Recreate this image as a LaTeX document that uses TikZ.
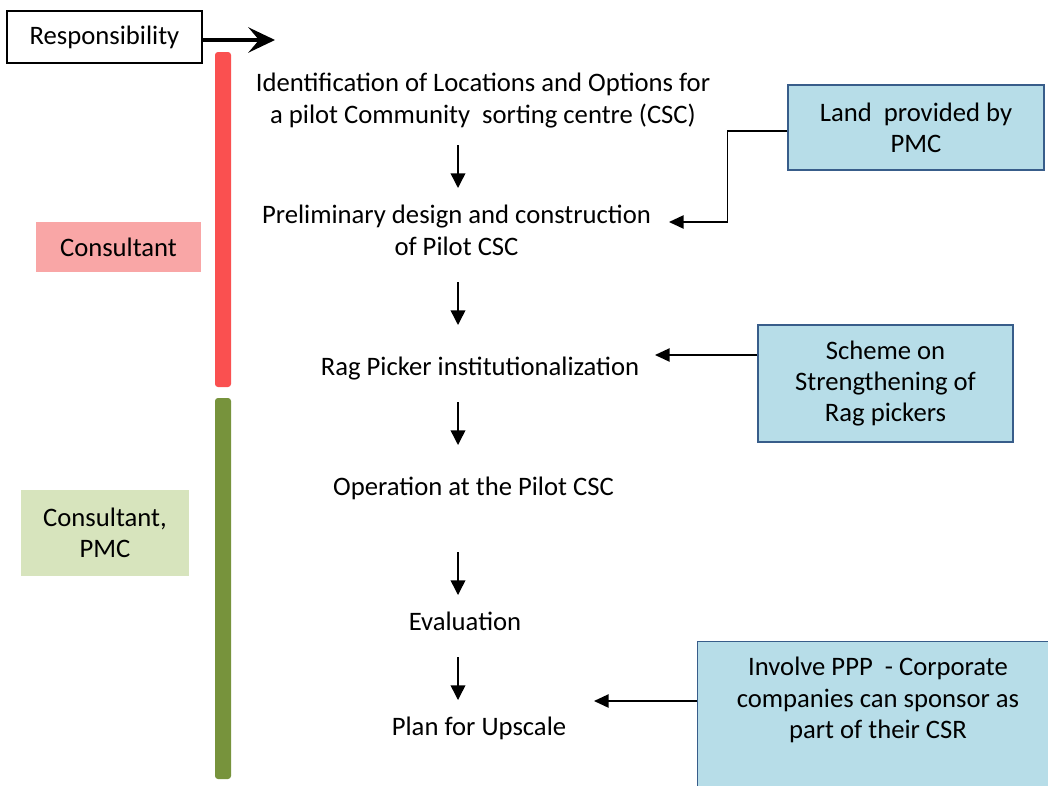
\documentclass[tikz,border=0pt]{standalone}
\usepackage{fontspec}
\setmainfont{Carlito}
\usetikzlibrary{arrows.meta}
\definecolor{barred}{RGB}{250,80,80}
\definecolor{bargreen}{RGB}{119,147,60}
\definecolor{pinkfill}{RGB}{249,166,166}
\definecolor{greenfill}{RGB}{215,228,189}
\definecolor{bluefill}{RGB}{183,221,232}
\definecolor{blueedge}{RGB}{56,93,138}
\begin{document}
\begin{tikzpicture}[x=0.75pt,y=-0.75pt,
  txt/.style={font=\fontsize{20}{23.5}\selectfont, align=center, inner sep=0pt},
  bluebox/.style={fill=bluefill, draw=blueedge, line width=1.1pt},
  flow/.style={-{Triangle[length=11pt,width=11pt]}, line width=1.1pt},
  conn/.style={-{Triangle[length=11pt,width=10pt]}, line width=1.1pt},
  headarrow/.style={-{Stealth[length=20pt,width=19pt,inset=8pt]}, line width=2.4pt}]
\useasboundingbox (0,0) rectangle (1048,785);
\fill[white] (0,0) rectangle (1048,785);

% header box and its arrow
\node[txt, draw, line width=1pt, minimum width=146.25pt, minimum height=39pt] (resp) at (104.5,37) {Responsibility};
\coordinate (resptip) at (275,40);
\draw[headarrow] (resp.east |- resptip) -- (resptip);

% responsibility bars
\fill[barred, rounded corners=2.25pt] (215,52) rectangle (231,387);
\fill[bargreen, rounded corners=2.25pt] (215,398) rectangle (231,779);

% responsibility labels
\node[txt, fill=pinkfill, minimum width=123.75pt, minimum height=37.5pt] (cons) at (118.5,247) {Consultant};
\node[txt, fill=greenfill, minimum width=126pt, minimum height=64.5pt] (conspmc) at (105,533) {Consultant,\\PMC};

% process steps
\node[txt] (ident) at (483,100.5) {Identification of Locations and Options for\\a pilot Community\ \ sorting centre (CSC)};
\node[txt] (prelim) at (456.5,230.5) {Preliminary design and construction\\of Pilot CSC};
\node[txt, anchor=base] (rag) at (480,375) {Rag Picker institutionalization};
\node[txt, anchor=base] (oper) at (473.5,495) {Operation at the Pilot CSC};
\node[txt, anchor=base] (eval) at (465,630) {Evaluation};
\node[txt, anchor=base] (plan) at (479,735) {Plan for Upscale};

% flow arrows between steps
\path (458,145) coordinate (f1s) (458,188) coordinate (f1e)
      (458,282) coordinate (f2s) (458,325) coordinate (f2e)
      (458,402) coordinate (f3s) (458,445) coordinate (f3e)
      (458,552) coordinate (f4s) (458,595) coordinate (f4e)
      (458,657) coordinate (f5s) (458,700) coordinate (f5e);
\foreach \i in {1,...,5} \draw[flow] (f\i s) -- (f\i e);

% supporting inputs
\node[txt, bluebox, minimum width=192pt, minimum height=63.75pt] (land) at (916,127.5) {Land\ \ provided by\\PMC};
\coordinate (landin) at (669,222);
\draw[conn] ([yshift=-2.6pt]land.west) -- ++(-60,0) |- (landin);

\node[txt, bluebox, minimum width=191.25pt, minimum height=87.75pt] (scheme) at (885.5,383.5) {Scheme on\\Strengthening of\\Rag pickers};
\coordinate (ragin) at (655,355);
\draw[conn] (scheme.west |- ragin) -- (ragin);

\node[bluebox, minimum width=285pt, minimum height=138pt, anchor=north west, inner sep=0pt] (ppp) at (697,641) {};
\node[txt] (ppptxt) at (878,700) {Involve PPP\ \ - Corporate\\companies can sponsor as\\part of their CSR};
\coordinate (planin) at (594,701);
\draw[conn] (ppp.west |- planin) -- (planin);
\end{tikzpicture}
\end{document}
